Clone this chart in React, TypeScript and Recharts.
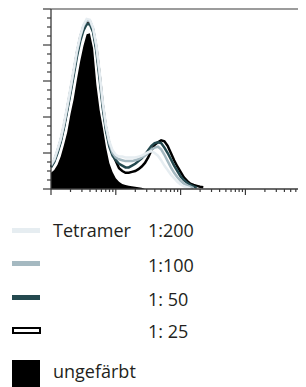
import React from 'react';
import { ComposedChart, Area, Line, XAxis, YAxis, ReferenceLine } from 'recharts';

// log10 of fluorescence intensity (bin starts)
const logBins = [
  0, 0.05, 0.1, 0.15, 0.2, 0.25, 0.3, 0.35, 0.4, 0.45,
  0.5, 0.55, 0.6, 0.65, 0.7, 0.75, 0.8, 0.85, 0.9, 0.95,
  1.0, 1.05, 1.1, 1.15, 1.2, 1.25, 1.3, 1.35, 1.4, 1.45,
  1.5, 1.55, 1.6, 1.65, 1.7, 1.75, 1.8, 1.85, 1.9, 1.95,
  2.0, 2.05, 2.1, 2.15, 2.2, 2.25, 2.3, 2.35, 2.4, 2.45, 2.5,
];

const unstained = [
  1.8, 2.1, 2.7, 3.6, 4.9, 6.3, 8.3, 10.0, 12.2, 14.2,
  15.9, 17.2, 17.3, 15.6, 11.6, 8.8, 6.8, 4.6, 2.9, 1.9,
  1.2, 0.8, 0.55, 0.45, 0.35, 0.3, 0.25, 0.2, 0.15, 0,
  null, null, null, null, null, null, null, null, null, null,
  null, null, null, null, null, null, null, null, null, null, null,
];

const tetramer200 = [
  2.7, 3.3, 4.4, 5.6, 7.3, 9.2, 11.2, 13.3, 15.4, 17.0,
  18.2, 18.9, 18.8, 17.9, 16.0, 13.0, 9.6, 7.0, 5.3, 4.3,
  3.8, 3.6, 3.6, 3.5, 3.5, 3.5, 3.5, 3.6, 3.7, 3.9,
  4.1, 4.2, 4.0, 3.7, 3.2, 2.6, 2.1, 1.6, 1.2, 0.8,
  0.5, 0.3, 0.2, 0.1, null, null, null, null, null, null, null,
];

const tetramer100 = [
  2.6, 3.2, 4.3, 5.5, 7.1, 9.0, 11.0, 13.1, 15.2, 16.9,
  18.1, 18.7, 18.7, 17.8, 15.8, 12.8, 9.4, 6.8, 5.1, 4.0,
  3.5, 3.3, 3.2, 3.1, 3.1, 3.1, 3.2, 3.3, 3.5, 3.7,
  4.0, 4.4, 4.6, 4.7, 4.4, 3.8, 3.1, 2.4, 1.8, 1.3,
  0.9, 0.6, 0.4, 0.25, 0.1, null, null, null, null, null, null,
];

const tetramer50 = [
  2.4, 3.0, 4.0, 5.2, 6.8, 8.7, 10.6, 12.6, 14.7, 16.4,
  17.6, 18.3, 18.3, 17.4, 15.3, 12.2, 8.9, 6.4, 4.7, 3.7,
  3.2, 2.8, 2.6, 2.4, 2.4, 2.6, 2.8, 3.1, 3.4, 3.8,
  4.3, 4.8, 5.1, 5.2, 5.1, 4.6, 4.0, 3.3, 2.6, 2.0,
  1.4, 1.0, 0.7, 0.45, 0.3, 0.15, null, null, null, null, null,
];

const tetramer25 = [
  2.5, 3.1, 4.2, 5.4, 7.0, 8.9, 10.9, 13.0, 15.1, 16.8,
  18.0, 18.6, 18.6, 17.7, 15.7, 12.7, 9.3, 6.7, 5.0, 3.9,
  3.1, 2.3, 2.0, 1.8, 1.8, 1.9, 2.0, 2.2, 2.5, 2.9,
  3.5, 4.3, 4.9, 5.2, 5.4, 5.3, 4.8, 4.0, 3.2, 2.5,
  1.9, 1.3, 0.9, 0.6, 0.45, 0.35, 0.25, 0.2, null, null, null,
];

const yTicks = [0, 1, 2, 3, 4, 5, 6, 7, 8, 9, 10, 11, 12, 13, 14, 15, 16, 17, 18, 19, 20];
const xDecades = [0, 1, 2, 3];
const xMultipliers = [1, 2, 3, 4, 5, 6, 7, 8, 9];
const xTicks = xDecades.flatMap((d) => xMultipliers.map((m) => d + Math.log10(m)));

const legendLabels = ['Tetramer', '', '', '', 'ungefärbt'];
const legendRatios = ['1:200', '1:100', '1: 50', '1: 25', ''];

const data = logBins.map((l, i) => ({
  l,
  u: unstained[i],
  t200: tetramer200[i],
  t100: tetramer100[i],
  t50: tetramer50[i],
  t25: tetramer25[i],
}));

const AXIS = '#3a3a3a';

const YTick = (props: any) => {
  const { x, y, payload } = props;
  const major = payload.value % 4 === 0;
  const len = major ? 8 : 4;
  return <line x1={x - len} x2={x} y1={y} y2={y} stroke={AXIS} strokeWidth={1.2} />;
};

const XTick = (props: any) => {
  const { x, y, payload } = props;
  const major = Math.abs(payload.value - Math.round(payload.value)) < 1e-6;
  const len = major ? 6 : 3;
  return <line x1={x} x2={x} y1={y} y2={y + len} stroke={AXIS} strokeWidth={1.2} />;
};

const font = '"Open Sans", sans-serif';

const swatches = [
  { type: 'line', color: '#e6edf1' },
  { type: 'line', color: '#a5b9c1' },
  { type: 'line', color: '#24494f' },
  { type: 'outline', color: '#000' },
  { type: 'box', color: '#000' },
];
const rowBaselines = [229.3, 263.7, 297.7, 330.3, 370];
const swatchCenters = [222, 255.5, 289, 322.5, 366];

export default function App() {
  return (
    <div style={{ position: 'relative', width: 298, height: 379, overflow: 'hidden', fontFamily: font }}>
      <ComposedChart width={298} height={192} data={data} margin={{ top: 1, right: 0, bottom: 0, left: 0 }}>
        <XAxis
          dataKey="l"
          type="number"
          domain={[0, 255 / 64.8]}
          ticks={xTicks}
          interval={0}
          tick={<XTick />}
          tickLine={false}
          tickSize={0}
          tickMargin={0}
          height={11}
          axisLine={{ stroke: AXIS, strokeWidth: 1.3 }}
        />
        <YAxis
          type="number"
          domain={[0, 20]}
          ticks={yTicks}
          interval={0}
          tick={<YTick />}
          tickLine={false}
          tickSize={0}
          tickMargin={0}
          width={43}
          axisLine={{ stroke: AXIS, strokeWidth: 1.3 }}
        />
        <ReferenceLine y={20} stroke={AXIS} strokeWidth={1.2} />
        <Area dataKey="u" type="linear" fill="#000" fillOpacity={1} stroke="none" isAnimationActive={false} />
        <Line dataKey="t25" type="linear" stroke="#000" strokeWidth={2.5} dot={false} isAnimationActive={false} />
        <Line dataKey="t50" type="linear" stroke="#24494f" strokeWidth={2.5} dot={false} isAnimationActive={false} />
        <Line dataKey="t100" type="linear" stroke="#a5b9c1" strokeWidth={2.5} dot={false} isAnimationActive={false} />
        <Line dataKey="t200" type="linear" stroke="#e6edf1" strokeWidth={2.5} dot={false} isAnimationActive={false} />
      </ComposedChart>
      {swatches.map((s, i) => {
        const cy = swatchCenters[i];
        let sw: React.ReactNode;
        if (s.type === 'line') {
          sw = <div style={{ position: 'absolute', left: 4, top: cy - 2.5, width: 28, height: 5, background: s.color }} />;
        } else if (s.type === 'outline') {
          sw = (
            <div
              style={{
                position: 'absolute', left: 4, top: cy - 3.5, width: 29, height: 7,
                boxSizing: 'border-box', border: '2px solid #000', background: '#fff',
              }}
            />
          );
        } else {
          sw = <div style={{ position: 'absolute', left: 4, top: cy - 14, width: 28, height: 28, background: s.color }} />;
        }
        const top = rowBaselines[i] - 19;
        return (
          <React.Fragment key={i}>
            {sw}
            {legendLabels[i] && (
              <div style={{ position: 'absolute', left: 45, top, height: 24, lineHeight: '24px', fontSize: 18, color: '#231f20', whiteSpace: 'nowrap' }}>
                {legendLabels[i]}
              </div>
            )}
            {legendRatios[i] && (
              <div style={{ position: 'absolute', left: 140, top, height: 24, lineHeight: '24px', fontSize: 18, color: '#231f20', whiteSpace: 'pre' }}>
                {legendRatios[i]}
              </div>
            )}
          </React.Fragment>
        );
      })}
    </div>
  );
}
